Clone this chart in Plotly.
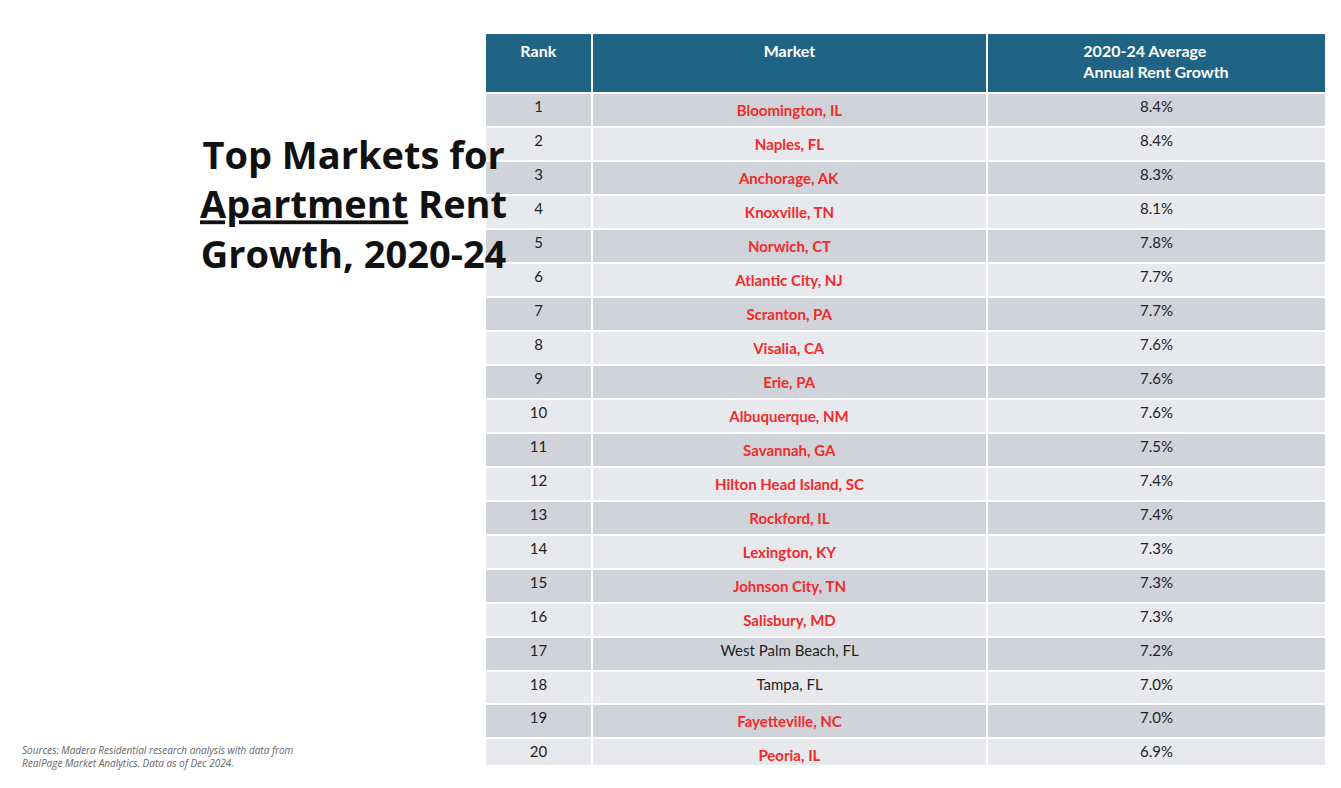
import plotly.graph_objects as go

ranks = list(range(1, 21))
markets = ["Bloomington, IL", "Naples, FL", "Anchorage, AK", "Knoxville, TN", "Norwich, CT",
           "Atlantic City, NJ", "Scranton, PA", "Visalia, CA", "Erie, PA", "Albuquerque, NM",
           "Savannah, GA", "Hilton Head Island, SC", "Rockford, IL", "Lexington, KY",
           "Johnson City, TN", "Salisbury, MD", "West Palm Beach, FL", "Tampa, FL",
           "Fayetteville, NC", "Peoria, IL"]
growth = [8.4, 8.4, 8.3, 8.1, 7.8, 7.7, 7.7, 7.6, 7.6, 7.6, 7.5, 7.4, 7.4, 7.3, 7.3, 7.3, 7.2, 7.0, 7.0, 6.9]
highlight = [True]*16 + [False, False] + [True, True]

fills = ["#d0d4da" if i % 2 == 0 else "#e8e9ed" for i in range(len(ranks))]
mk_text = [f"<b>{m}</b>" if h else m for m, h in zip(markets, highlight)]
mk_col = ["#f42a2a" if h else "#222222" for h in highlight]

fig = go.Figure(go.Table(
    domain=dict(x=[477/1341, 1318/1341], y=[1-757/788, 1-25/788]),
    columnwidth=[107, 395, 339],
    header=dict(values=["<b>Rank</b>", "<b>Market</b>", "<b>2020-24 Average<br>Annual Rent Growth</b>"],
                fill_color="#1f6484", line=dict(color="white", width=2),
                font=dict(color="white", size=16, family="Lato"), align="center", height=60),
    cells=dict(values=[ranks, mk_text, [f"{g:.1f}%" for g in growth]],
               fill_color=[fills]*3, line=dict(color="white", width=2),
               font=dict(color=[["#222222"]*20, mk_col, ["#222222"]*20], size=15, family="Lato"),
               align="center", height=33.6),
))
fig.add_annotation(x=190/1341, y=1-118/788, xref="paper", yref="paper", showarrow=False,
                   text="<b>Top Markets for<br><u>Apartment</u> Rent<br>Growth, 2020-24</b>",
                   font=dict(size=38, family="Open Sans", color="#111111"), align="center")
fig.add_annotation(x=12/1341, y=1-764/788, xref="paper", yref="paper", showarrow=False,
                   xanchor="left", align="left",
                   text="<i>Sources: Madera Residential research analysis with data from<br>RealPage Market Analytics. Data as of Dec 2024.</i>",
                   font=dict(size=10, family="Open Sans", color="#666666"))
fig.update_layout(width=1341, height=788, margin=dict(l=0, r=0, t=0, b=0),
                  paper_bgcolor="white", plot_bgcolor="white")
fig.write_html("out.html")
